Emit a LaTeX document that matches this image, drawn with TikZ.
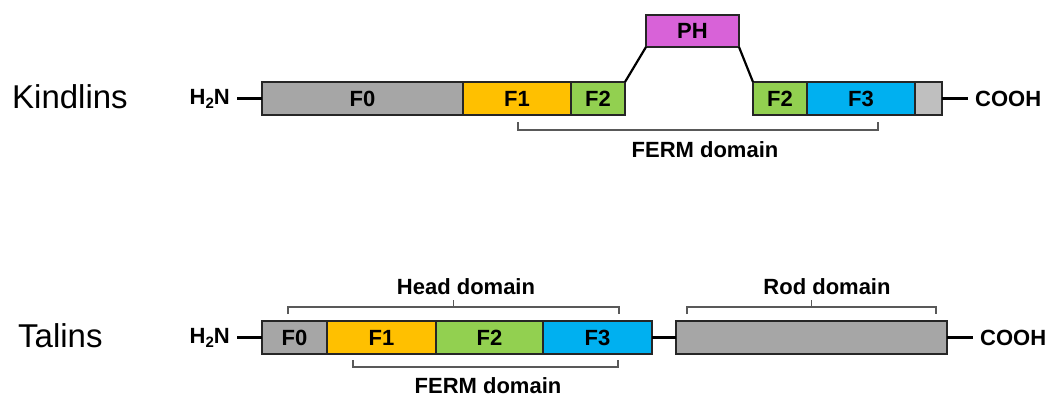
\documentclass[tikz,border=0pt]{standalone}
\usepackage{fontspec}
\setmainfont{Liberation Sans}
\usepackage{tikz}
\usetikzlibrary{positioning}
\definecolor{fzero}{HTML}{A6A6A6}
\definecolor{fone}{HTML}{FFC000}
\definecolor{ftwo}{HTML}{92D050}
\definecolor{fthree}{HTML}{00B0F0}
\definecolor{fph}{HTML}{D862D8}
\definecolor{fend}{HTML}{BFBFBF}
\definecolor{boxline}{HTML}{262626}
\definecolor{bracegray}{HTML}{595959}
\newcommand\lab{\bfseries\fontsize{22}{22}\selectfont}
\newcommand\htwon{H\raisebox{-.35ex}{\fontsize{15}{15}\selectfont 2}N}

\begin{document}
\begin{tikzpicture}[x=1pt, y=-1pt,
	dombox/.style={draw=boxline, line width=1.3pt, fill=#1, minimum height=33pt, inner sep=0pt, outer sep=0pt, font=\lab},
	lab/.style={font=\lab, inner sep=0pt},
	endlab/.style={font=\lab, inner sep=7pt},
	link/.style={line width=2.2pt, black},
	bracket/.style={draw=bracegray, line width=1.4pt},
	rowtitle/.style={font=\fontsize{33}{33}\selectfont, anchor=west, inner sep=0pt}]
	\useasboundingbox (0,0) rectangle (1051,396);
	\node[rowtitle] (kin) at (12,97) {Kindlins};
	\node[endlab, anchor=east] (kN) at (237,98.5) {\htwon};
	\node[dombox=fzero, minimum width=201pt, anchor=west] (kF0) at (262,98.5) {F0};
	\node[dombox=fone, minimum width=108pt, right=0pt of kF0] (kF1) {F1};
	\node[dombox=ftwo, minimum width=54pt, right=0pt of kF1] (kF2) {F2};
	\node[dombox=fph, minimum width=93pt, minimum height=32pt] (kPH) at (692.5,31) {PH};
	\node[dombox=ftwo, minimum width=54pt, anchor=west] (kF2b) at (753,98.5) {F2};
	\node[dombox=fthree, minimum width=108pt, right=0pt of kF2b] (kF3) {F3};
	\node[dombox=fend, minimum width=27pt, right=0pt of kF3] (kC) {};
	\node[endlab, anchor=west] (kO) at (968,98.5) {COOH};
	\draw[link] (kN.east) -- (kF0.west);
	\draw[link] (kF2.north east) -- (kPH.south west);
	\draw[link] (kPH.south east) -- (kF2b.north west);
	\draw[link] (kC.east) -- (kO.west);
	\draw[bracket] (518,122) -- (518,130) -- (878,130) -- (878,122);
	\node[lab] (kferm) at (705,150) {FERM domain};

	\node[rowtitle] (tal) at (18,336) {Talins};
	\node[endlab, anchor=east] (tN) at (237,337.5) {\htwon};
	\node[dombox=fzero, minimum width=65pt, anchor=west] (tF0) at (262,337.5) {F0};
	\node[dombox=fone, minimum width=109pt, right=0pt of tF0] (tF1) {F1};
	\node[dombox=ftwo, minimum width=107pt, right=0pt of tF1] (tF2) {F2};
	\node[dombox=fthree, minimum width=109pt, right=0pt of tF2] (tF3) {F3};
	\node[dombox=fzero, minimum width=271pt, anchor=west] (tRod) at (676,337.5) {};
	\node[endlab, anchor=west] (tO) at (973,337.5) {COOH};
	\draw[link] (tN.east) -- (tF0.west);
	\draw[link] (tF3.east) -- (tRod.west);
	\draw[link] (tRod.east) -- (tO.west);
	\draw[bracket] (288,314) -- (288,307) -- (619,307) -- (619,314);
	\draw[bracket] (453.5,307) -- (453.5,300);
	\node[lab] (thead) at (466,287) {Head domain};
	\draw[bracket] (687,314) -- (687,307) -- (936,307) -- (936,314);
	\draw[bracket] (811.5,307) -- (811.5,300);
	\node[lab] (trod) at (827,287) {Rod domain};
	\draw[bracket] (353,360) -- (353,367) -- (618,367) -- (618,360);
	\node[lab] (tferm) at (488,385.5) {FERM domain};
\end{tikzpicture}
\end{document}
